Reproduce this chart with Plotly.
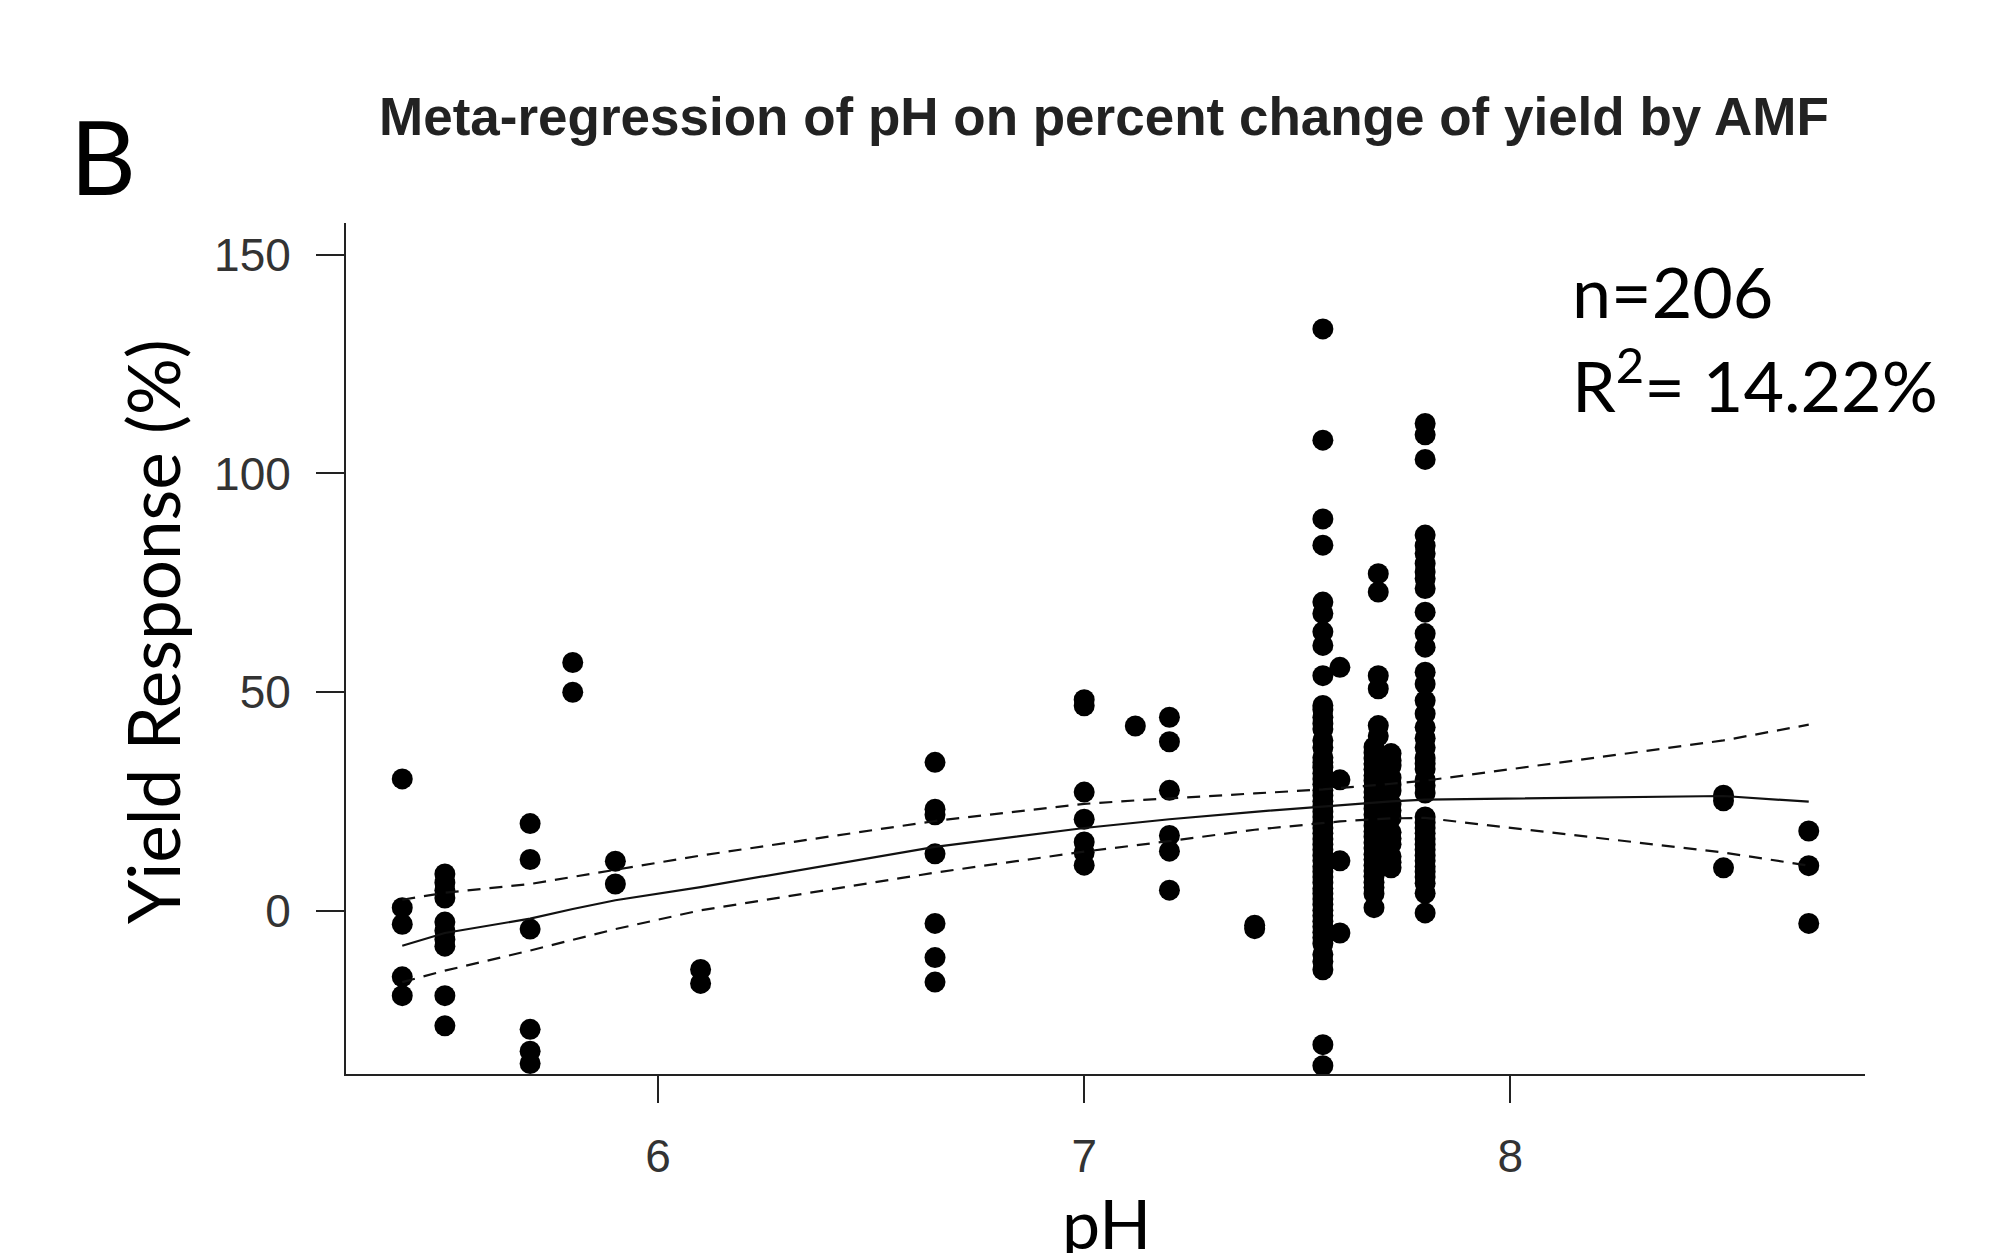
import plotly.graph_objects as go

# ---- data: observed pH columns and yield responses (%) ----
ph_groups = [5.4, 5.5, 5.7, 5.8, 5.9, 6.1, 6.65, 7.0, 7.12, 7.2, 7.4, 7.56, 7.6,
             7.69, 7.68, 7.72, 7.8, 8.5, 8.7]
y_54 = [30.2, 0.8, -3.0, -15.0, -19.3]
y_55 = [8.5, 6.5, 4.8, 3.0, -2.5, -4.5, -6.5, -8.0, -19.3, -26.2]
y_57 = [20.0, 11.8, -4.1, -27.0, -32.0, -34.8]
y_58 = [56.8, 50.0]
y_59 = [11.4, 6.2]
y_61 = [-13.3, -16.5]
y_665 = [34.0, 23.3, 22.0, 13.1, -2.8, -10.6, -16.2]
y_70 = [48.3, 46.9, 27.2, 21.0, 15.8, 13.4, 10.5]
y_712 = [42.3]
y_72 = [44.3, 38.7, 27.6, 17.3, 13.7, 4.8]
y_74 = [-3.2, -4.0]
y_756 = [133.0, 107.6, 89.6, 83.6, 70.6, 68.0, 63.8, 60.7, 53.8, 47.0, 46.0, 44.3,
         42.8, 41.6, 39.0, 37.4, 35.1, 34.0, 32.8, 31.5, 30.2, 29.0, 27.6, 26.4,
         25.1, 24.0, 22.7, 21.5, 20.2, 19.0, 17.8, 16.5, 15.2, 14.0, 12.7, 11.5,
         10.2, 9.0, 7.8, 6.5, 5.2, 4.0, 2.8, 1.5, 0.2, -1.0, -2.3, -3.5, -4.8,
         -6.0, -7.4, -9.9, -11.5, -13.4, -30.5, -35.3]
y_760 = [55.7, 30.0, 11.5, -5.0]
y_769 = [77.1, 72.9, 53.8, 50.8, 42.4, 40.0]
y_768 = [37.5, 36.2, 35.0, 33.6, 32.4, 31.0, 29.8, 28.5, 27.2, 26.0, 24.6, 23.4,
         22.0, 20.8, 19.5, 18.2, 17.0, 15.6, 14.4, 13.0, 11.8, 10.5, 9.2, 8.0,
         6.6, 5.4, 4.0, 0.8]
y_772 = [36.0, 34.5, 33.2, 30.5, 28.9, 27.5, 24.5, 23.0, 21.3, 18.0, 16.6, 15.3,
         12.5, 11.2, 9.9]
y_780 = [111.4, 108.8, 103.2, 85.9, 83.5, 81.7, 79.4, 77.5, 76.0, 73.7, 68.3,
         63.4, 60.3, 54.6, 51.9, 48.1, 45.1, 42.0, 39.5, 37.4, 35.0, 33.7, 32.5,
         30.0, 28.7, 27.0, 21.5, 20.2, 19.0, 17.8, 16.5, 15.2, 14.0, 12.7, 11.5,
         10.2, 9.0, 7.8, 6.4, 4.1, -0.4]
y_85 = [26.5, 25.2, 9.9]
y_87 = [18.3, 10.4, -2.8]
y_groups = [y_54, y_55, y_57, y_58, y_59, y_61, y_665, y_70, y_712, y_72, y_74,
            y_756, y_760, y_769, y_768, y_772, y_780, y_85, y_87]

# ---- fitted meta-regression line and 95% CI (read at observed pH values) ----
fit_ph = [5.4, 5.5, 5.7, 5.8, 5.9, 6.1, 6.65, 7.0, 7.12, 7.2, 7.4, 7.56, 7.6,
          7.68, 7.72, 7.8, 8.5, 8.7]
fit_pred = [-7.9, -5.0, -1.7, 0.5, 2.5, 5.5, 14.7, 19.0, 20.2, 21.0, 22.7, 23.9,
            24.2, 24.8, 25.1, 25.5, 26.3, 25.0]
fit_upper = [2.6, 4.2, 6.2, 7.8, 9.4, 12.7, 20.6, 24.5, 25.3, 25.8, 26.9, 27.8,
             28.1, 28.7, 29.1, 29.8, 39.0, 42.6]
fit_lower = [-16.2, -13.6, -9.0, -6.5, -4.1, 0.2, 8.8, 13.6, 15.0, 16.0, 18.6,
             20.2, 20.5, 21.0, 21.2, 21.3, 13.4, 10.4]

x_ticks = [6, 7, 8]
y_ticks = [0, 50, 100, 150]

xs, ys = [], []
for p, vals in zip(ph_groups, y_groups):
    xs += [p] * len(vals)
    ys += vals

fig = go.Figure()
fig.add_trace(go.Scatter(x=xs, y=ys, mode="markers",
                         marker=dict(color="black", size=21, line=dict(width=0)),
                         showlegend=False, cliponaxis=True))
fig.add_trace(go.Scatter(x=fit_ph, y=fit_pred, mode="lines",
                         line=dict(color="#111111", width=2.2), showlegend=False))
fig.add_trace(go.Scatter(x=fit_ph, y=fit_upper, mode="lines",
                         line=dict(color="#111111", width=2.2, dash="13px,9px"),
                         showlegend=False))
fig.add_trace(go.Scatter(x=fit_ph, y=fit_lower, mode="lines",
                         line=dict(color="#111111", width=2.2, dash="13px,9px"),
                         showlegend=False))

# plot area in page (viewport) pixels; the page body adds an 8px offset
OFF = 8
L, R, T, B = 346, 1865, 223, 1074
W, H = 2003 - OFF, 1253 - OFF
def px(x):
    return (x - L) / (R - L)
def py(y):
    return (B - y) / (B - T)

tickfont = dict(family="Liberation Sans, Arial, sans-serif", size=46, color="#333333")
fig.update_layout(
    width=W, height=H,
    margin=dict(l=L - OFF, r=W - (R - OFF), t=T - OFF, b=H - (B - OFF), pad=0),
    plot_bgcolor="white", paper_bgcolor="white",
    xaxis=dict(range=[5.268, 8.832], tickvals=x_ticks, ticktext=[str(v) for v in x_ticks],
               showgrid=False, zeroline=False, showline=True, linecolor="#222222",
               linewidth=2, ticks="outside", ticklen=27, tickwidth=1.5,
               tickcolor="#222222", tickfont=tickfont, ticklabelstandoff=14),
    yaxis=dict(range=[-37.2, 157.2], tickvals=y_ticks, ticktext=[str(v) for v in y_ticks],
               showgrid=False, zeroline=False, showline=True, linecolor="#222222",
               linewidth=2, ticks="outside", ticklen=28, tickwidth=1.5,
               tickcolor="#222222", tickfont=tickfont, ticklabelstandoff=16),
    annotations=[
        dict(text="<b>Meta-regression of pH on percent change of yield by AMF</b>",
             xref="paper", yref="paper", x=px(1104), y=py(117), xanchor="center",
             yanchor="middle", showarrow=False,
             font=dict(family="Liberation Sans, Arial, sans-serif", size=53, color="#222222")),
        dict(text="B", xref="paper", yref="paper", x=px(68), y=py(155),
             xanchor="left", yanchor="middle", showarrow=False,
             font=dict(family="Lato, sans-serif", size=102, color="black")),
        dict(text="n=206", xref="paper", yref="paper", x=px(1570), y=py(291),
             xanchor="left", yanchor="middle", showarrow=False,
             font=dict(family="Lato, sans-serif", size=70, color="black")),
        dict(text="R<sup>2</sup>= 14.22%", xref="paper", yref="paper", x=px(1570), y=py(381),
             xanchor="left", yanchor="middle", showarrow=False,
             font=dict(family="Lato, sans-serif", size=70, color="black")),
        dict(text="Yield Response (%)", xref="paper", yref="paper", x=px(152), y=py(632),
             xanchor="center", yanchor="middle", textangle=-90, showarrow=False,
             font=dict(family="Lato, sans-serif", size=71, color="black")),
        dict(text="pH", xref="paper", yref="paper", x=px(1106), y=py(1222),
             xanchor="center", yanchor="middle", showarrow=False,
             font=dict(family="Lato, sans-serif", size=68, color="black")),
    ],
)
fig.write_html("out.html")
